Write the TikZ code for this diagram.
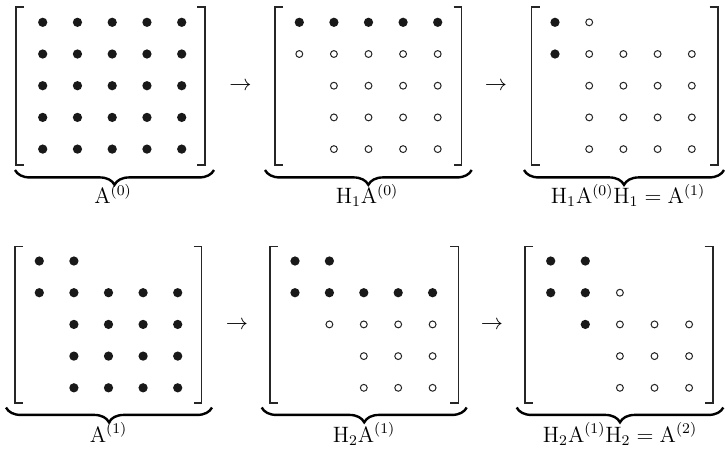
\documentclass[tikz,border=0pt]{standalone}
\usetikzlibrary{decorations.pathreplacing}
\tikzset{
  fdot/.style={circle,fill=black!90,inner sep=0pt,minimum size=5pt},
  odot/.style={circle,draw=black!85,line width=0.55pt,inner sep=0pt,minimum size=3.7pt},
  brk/.style={line width=0.85pt,draw=black!85},
  brc/.style={decorate,decoration={brace,mirror,amplitude=8pt},line width=1.3pt},
  lbl/.style={anchor=base,inner sep=0pt,font=\fontsize{11.5}{14}\selectfont},
  arr/.style={inner sep=0pt,font=\fontsize{12}{14}\selectfont}
}
\newcommand\mA{\mathrm{A}}
\newcommand\mH{\mathrm{H}}
% name, first column x, first row y, column step, rows
\newcommand\dotmatrix[5]{%
  \foreach \rowspec [count=\ri] in {#5} {
    \foreach \kind [count=\ci] in \rowspec {
      \if\kind f\node[fdot] (#1-\ri-\ci) at ({#2+(\ci-1)*#4},{#3+(\ri-1)*31.7}) {};\fi
      \if\kind o\node[odot] (#1-\ri-\ci) at ({#2+(\ci-1)*#4},{#3+(\ri-1)*31.7}) {};\fi
    }
  }
}
% left x, right x, top y, bottom y
\newcommand\bracketpair[4]{%
  \draw[brk] ({#1+8},#3) -- (#1,#3) -- (#1,#4) -- ({#1+8},#4);
  \draw[brk] ({#2-8},#3) -- (#2,#3) -- (#2,#4) -- ({#2-8},#4);
}
\begin{document}
\begin{tikzpicture}[x=0.54pt,y=-0.54pt]
\useasboundingbox (0,0) rectangle (725,451);

% ---------- top row ----------
\dotmatrix{ma}{42.7}{22.3}{34.75}{{f,f,f,f,f},{f,f,f,f,f},{f,f,f,f,f},{f,f,f,f,f},{f,f,f,f,f}}
\bracketpair{16}{205}{7}{165}
\draw[brc] (15,170) -- (214,170);
\node[lbl] (la) at (113,203.5) {$\mA^{(0)}$};

\node[arr] (a1) at (240.5,86.5) {$\rightarrow$};

\dotmatrix{mb}{299.3}{22.3}{34.6}{{f,f,f,f,f},{o,o,o,o,o},{n,o,o,o,o},{n,o,o,o,o},{n,o,o,o,o}}
\bracketpair{275}{461.7}{7}{165}
\draw[brc] (265,170) -- (471.7,170);
\node[lbl] (lb) at (367,203.5) {$\mH_1\mA^{(0)}$};

\node[arr] (a2) at (496,86.5) {$\rightarrow$};

\dotmatrix{mc}{555}{22.3}{34.2}{{f,o,n,n,n},{f,o,o,o,o},{n,o,o,o,o},{n,o,o,o,o},{n,o,o,o,o}}
\bracketpair{531.7}{717.7}{7}{165}
\draw[brc] (524,170) -- (724,170);
\node[lbl] (lc) at (628,203.5) {$\mH_1\mA^{(0)}\mH_1 = \mA^{(1)}$};

% ---------- bottom row ----------
\dotmatrix{md}{39.3}{261}{34.6}{{f,f,n,n,n},{f,f,f,f,f},{n,f,f,f,f},{n,f,f,f,f},{n,f,f,f,f}}
\bracketpair{15}{201.7}{246.7}{402.7}
\draw[brc] (6,407.5) -- (212,407.5);
\node[lbl] (ld) at (108.5,442) {$\mA^{(1)}$};

\node[arr] (a3) at (237,325.5) {$\rightarrow$};

\dotmatrix{me}{295}{261}{34.4}{{f,f,n,n,n},{f,f,f,f,f},{n,o,o,o,o},{n,n,o,o,o},{n,n,o,o,o}}
\bracketpair{270}{458.3}{246.7}{402.7}
\draw[brc] (261.7,407.5) -- (466.7,407.5);
\node[lbl] (le) at (364,442) {$\mH_2\mA^{(1)}$};

\node[arr] (a4) at (492,325.5) {$\rightarrow$};

\dotmatrix{mf}{550.7}{261}{34.6}{{f,f,n,n,n},{f,f,o,n,n},{n,f,o,o,o},{n,n,o,o,o},{n,n,o,o,o}}
\bracketpair{525}{712.7}{246.7}{402.7}
\draw[brc] (516.7,407.5) -- (723.3,407.5);
\node[lbl] (lf) at (620,442) {$\mH_2\mA^{(1)}\mH_2 = \mA^{(2)}$};
\end{tikzpicture}
\end{document}
